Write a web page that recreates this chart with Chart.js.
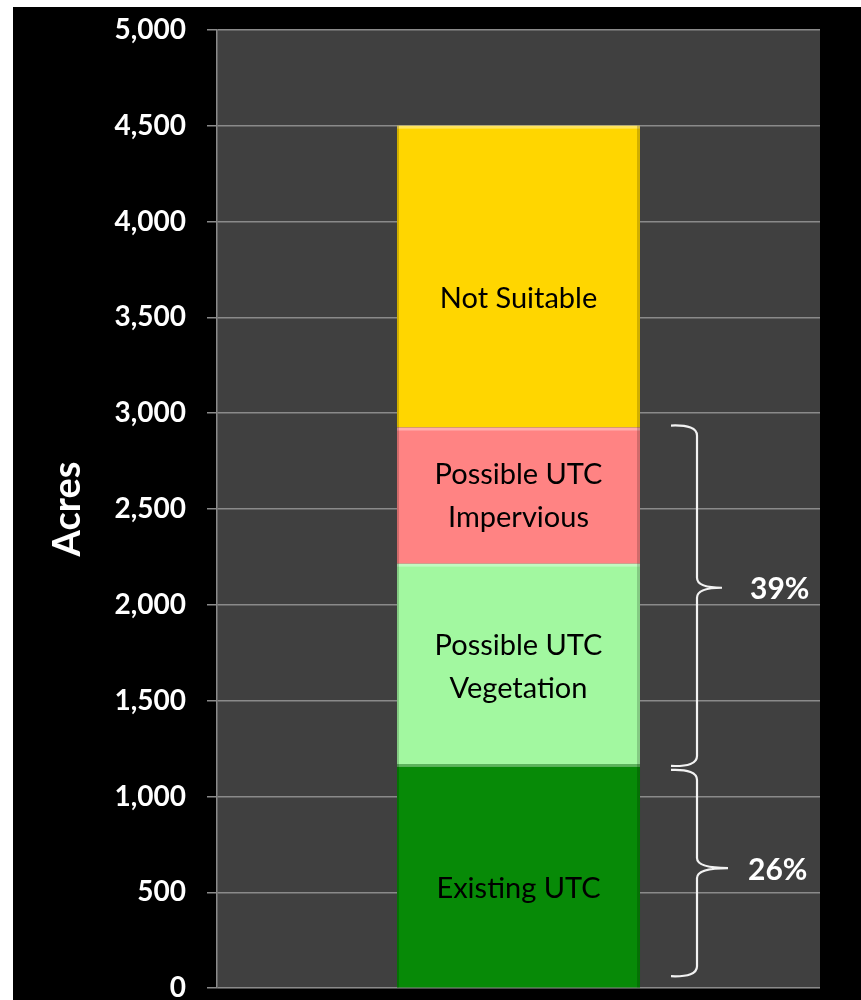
<!DOCTYPE html>
<html>
<head>
<meta charset="utf-8">
<script src="https://cdn.jsdelivr.net/npm/chart.js@4.4.1/dist/chart.umd.min.js"></script>
<style>
  html,body{margin:0;padding:0;background:#fff;overflow:hidden;width:861px;height:1000px;}
  #wrap{position:absolute;left:13px;top:7px;width:848px;height:993px;background:#000;overflow:hidden;}
  #acresChart{position:absolute;left:0;top:-15px;display:block;}
</style>
</head>
<body>
<div id="wrap"><canvas id="acresChart" width="848" height="1034"></canvas></div>
<script>
// data
const categories=['Acres'];
const segmentNames=['Existing UTC','Possible UTC\nVegetation','Possible UTC\nImpervious','Not Suitable'];
const segmentValues=[1170,1045,710,1575];
const segmentColors=['#078a07','#a2f8a0','#ff8383','#ffd600'];
const yTicks=[0,500,1000,1500,2000,2500,3000,3500,4000,4500,5000];
const percentLabels=['26%','39%'];

const plotBg={
  id:'plotBg',
  beforeDraw(chart){
    const {ctx,chartArea:a}=chart;
    ctx.save();
    ctx.fillStyle='#404040';
    ctx.fillRect(a.left,a.top,a.right-a.left,a.bottom-a.top);
    ctx.restore();
  }
};

// bevel look + text inside each segment
const segLabels={
  id:'segLabels',
  afterDatasetsDraw(chart,args,opts){
    const ctx=chart.ctx;
    chart.data.datasets.forEach((ds,i)=>{
      const bar=chart.getDatasetMeta(i).data[0];
      const left=bar.x-bar.width/2, right=bar.x+bar.width/2;
      const top=Math.min(bar.y,bar.base), bottom=Math.max(bar.y,bar.base);
      ctx.save();
      ctx.fillStyle='rgba(255,255,255,0.35)';
      ctx.fillRect(left,top,right-left,3);
      ctx.fillStyle='rgba(0,0,0,0.18)';
      ctx.fillRect(right-3,top,3,bottom-top);
      ctx.fillRect(left,top,2,bottom-top);
      ctx.fillStyle='#000';
      ctx.font='29px Lato';
      ctx.textAlign='center';
      ctx.textBaseline='middle';
      const lines=ds.label.split('\n');
      const lh=43;
      const cy=(top+bottom)/2+(opts.shift[i]||0);
      lines.forEach((ln,k)=>{
        ctx.fillText(ln,bar.x,cy+(k-(lines.length-1)/2)*lh);
      });
      ctx.restore();
    });
  }
};

function drawBrace(ctx,xEnd,xSpine,xTip,y0,y1,yTip){
  const r=10;
  ctx.beginPath();
  ctx.moveTo(xEnd,y0);
  ctx.quadraticCurveTo(xSpine,y0-1,xSpine,y0+r);
  ctx.lineTo(xSpine,yTip-r);
  ctx.quadraticCurveTo(xSpine,yTip,xTip,yTip);
  ctx.moveTo(xTip,yTip);
  ctx.quadraticCurveTo(xSpine,yTip,xSpine,yTip+r);
  ctx.lineTo(xSpine,y1-r);
  ctx.quadraticCurveTo(xSpine,y1+1,xEnd,y1);
  ctx.stroke();
}

const braces={
  id:'braces',
  afterDraw(chart){
    const ctx=chart.ctx, y=chart.scales.y;
    const existingTop=segmentValues[0];
    const possibleTop=segmentValues[0]+segmentValues[1]+segmentValues[2];
    const spans=[[0,existingTop],[existingTop,possibleTop]];
    const xBar=chart.getDatasetMeta(0).data[0];
    const barRight=xBar.x+xBar.width/2;
    ctx.save();
    ctx.strokeStyle='#f2f2f2';
    ctx.lineWidth=2.2;
    spans.forEach((s,i)=>{
      let yb=y.getPixelForValue(s[0]), yt=y.getPixelForValue(s[1]);
      if(i===0){yb-=12;yt+=6;}else{yt-=2;yb+=2;}
      const ym=(yt+yb)/2-(i===0?5:8);
      const tip=i===0?barRight+88:barRight+82;
      drawBrace(ctx,barRight+31,barRight+57,tip,yt,yb,ym);
      ctx.fillStyle='#fff';
      ctx.font='bold 30px Lato';
      ctx.textAlign='left';
      ctx.textBaseline='middle';
      ctx.fillText(percentLabels[i],tip+(i===0?20:28),ym+2);
    });
    ctx.restore();
  }
};

new Chart(document.getElementById('acresChart'),{
  type:'bar',
  data:{
    labels:categories,
    datasets:segmentValues.map((v,i)=>({
      label:segmentNames[i],
      data:[v],
      backgroundColor:segmentColors[i],
      borderWidth:0,
      categoryPercentage:1,
      barPercentage:0.403
    }))
  },
  options:{
    responsive:false,
    animation:false,
    devicePixelRatio:1,
    layout:{padding:{top:5,right:41,bottom:0,left:0}},
    plugins:{
      legend:{display:false},
      tooltip:{enabled:false},
      segLabels:{shift:[13,3,1,22]}
    },
    scales:{
      x:{stacked:true,display:false},
      y:{
        stacked:true,
        min:0,max:5000,
        afterFit(scale){scale.width=204;},
        afterBuildTicks(scale){scale.ticks=yTicks.map(v=>({value:v}));},
        ticks:{
          color:'#fff',
          font:{family:'Lato',weight:'bold',size:28},
          padding:21,
          callback:v=>v.toLocaleString('en-US')
        },
        grid:{color:'#8a8a8a',lineWidth:1.5,tickLength:10},
        border:{color:'#8a8a8a',width:1.5},
        title:{
          display:true,text:'Acres',color:'#fff',
          font:{family:'Lato',weight:'bold',size:38},
          padding:{top:32,bottom:0}
        }
      }
    }
  },
  plugins:[plotBg,segLabels,braces]
});
</script>
</body>
</html>
